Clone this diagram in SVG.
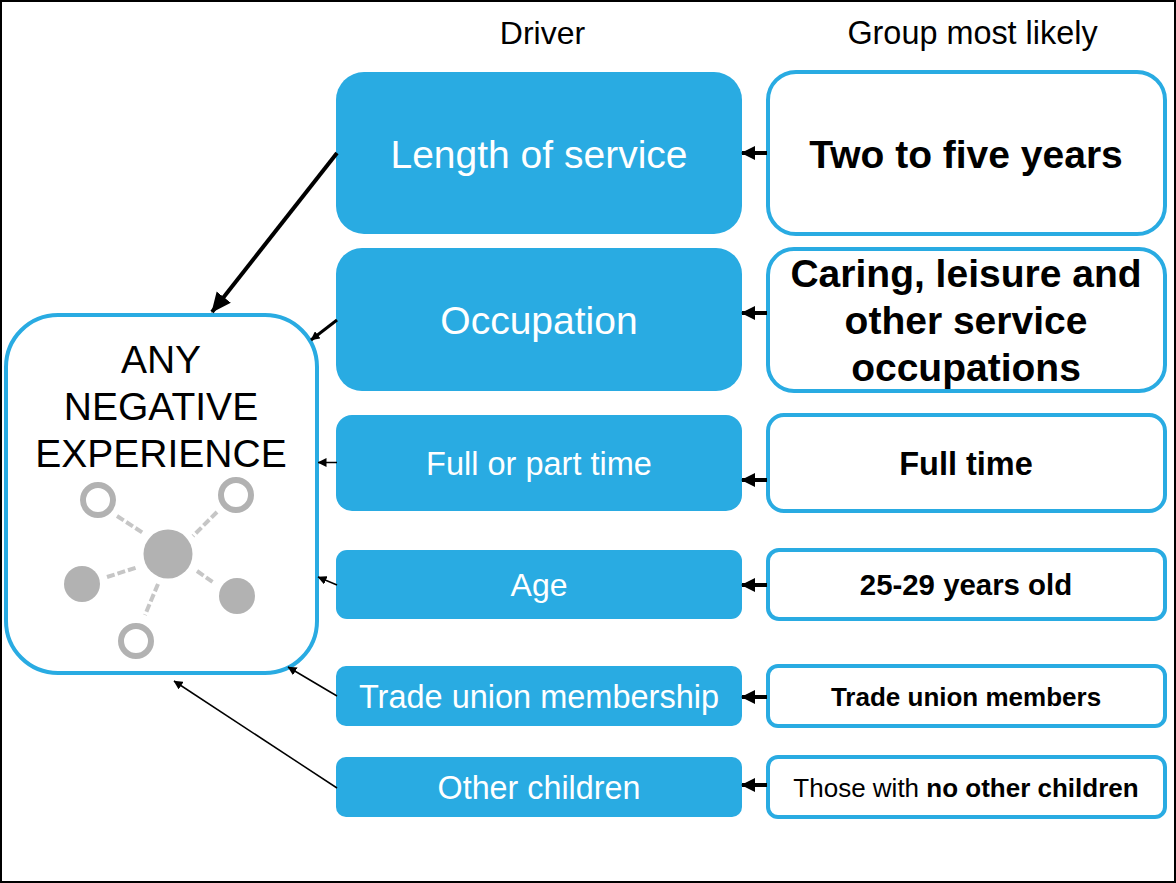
<svg xmlns="http://www.w3.org/2000/svg" width="1176" height="883" viewBox="0 0 1176 883">
<defs>
<marker id="L" markerUnits="userSpaceOnUse" markerWidth="20" markerHeight="20" refX="19" refY="10" orient="auto"><path d="M0 1L20 10L0 19Z" fill="#000"/></marker>
<marker id="M" markerUnits="userSpaceOnUse" markerWidth="14" markerHeight="14" refX="13" refY="7" orient="auto"><path d="M0 0L14 7L0 14Z" fill="#000"/></marker>
<marker id="S" markerUnits="userSpaceOnUse" markerWidth="9" markerHeight="9" refX="8.5" refY="4.5" orient="auto"><path d="M0 0L9 4.5L0 9Z" fill="#000"/></marker>
</defs>
<style>
.d{fill:#29abe2}
.g{fill:#fff;stroke:#29abe2;stroke-width:4}
text{font-family:"Liberation Sans",Arial,sans-serif;text-anchor:middle}
.w{fill:#fff}
.b{font-weight:bold;fill:#000}
.c{stroke:#000;fill:none}
.m{stroke-width:4;marker-end:url(#M)}
.s{stroke-width:1.5;marker-end:url(#S)}
.n{fill:#b2b2b2}
.r{fill:#fff;stroke:#b2b2b2;stroke-width:6}
.l{stroke:#c6c6c6;stroke-width:4;stroke-dasharray:8 3;fill:none}
</style>
<rect x="1" y="1" width="1174" height="881" fill="#fff" stroke="#000" stroke-width="2"/>
<text x="542.5" y="44" font-size="32">Driver</text>
<text x="972.5" y="44" font-size="32.4">Group most likely</text>
<g id="any"><rect class="g" x="6" y="315" width="311" height="358" rx="52"/>
<text x="161" y="373" font-size="39">ANY</text><text x="161" y="420" font-size="39">NEGATIVE</text><text x="161" y="467" font-size="39">EXPERIENCE</text>
<g id="icon"><path class="l" d="M117 516L143 533M217 512L193 536M107 577L138 567M197 571L214 583M158 584L145 615"/>
<circle class="n" cx="168" cy="554" r="24.5"/><circle class="r" cx="98" cy="500" r="15"/><circle class="r" cx="236" cy="495" r="15"/><circle class="n" cx="82" cy="584" r="18"/><circle class="n" cx="237" cy="596" r="18"/><circle class="r" cx="136" cy="641" r="15"/></g></g>
<g id="d1"><rect class="d" x="336" y="72" width="406" height="162" rx="28"/><text class="w" x="539" y="168" font-size="39">Length of service</text></g>
<g id="d2"><rect class="d" x="336" y="248" width="406" height="143" rx="26"/><text class="w" x="539" y="334" font-size="39">Occupation</text></g>
<g id="d3"><rect class="d" x="336" y="415" width="406" height="96" rx="16"/><text class="w" x="539" y="475" font-size="32.5">Full or part time</text></g>
<g id="d4"><rect class="d" x="336" y="550" width="406" height="69" rx="11"/><text class="w" x="539" y="596" font-size="32">Age</text></g>
<g id="d5"><rect class="d" x="336" y="666" width="406" height="60" rx="10"/><text class="w" x="539" y="708" font-size="32.5">Trade union membership</text></g>
<g id="d6"><rect class="d" x="336" y="757" width="406" height="60" rx="10"/><text class="w" x="539" y="799" font-size="32.3">Other children</text></g>
<g id="g1"><rect class="g" x="768" y="72" width="397" height="162" rx="28"/><text class="b" x="966" y="168" font-size="39">Two to five years</text></g>
<g id="g2"><rect class="g" x="768" y="249" width="397" height="142" rx="26"/><text class="b" x="966" y="287" font-size="39">Caring, leisure and</text><text class="b" x="966" y="334" font-size="39">other service</text><text class="b" x="966" y="381" font-size="39">occupations</text></g>
<g id="g3"><rect class="g" x="768" y="415" width="397" height="96" rx="16"/><text class="b" x="966" y="475" font-size="32.5">Full time</text></g>
<g id="g4"><rect class="g" x="768" y="550" width="397" height="69" rx="11"/><text class="b" x="966" y="595" font-size="29.4">25-29 years old</text></g>
<g id="g5"><rect class="g" x="768" y="666" width="397" height="60" rx="10"/><text class="b" x="966" y="706" font-size="26">Trade union members</text></g>
<g id="g6"><rect class="g" x="768" y="757" width="397" height="60" rx="10"/><text x="966" y="797" font-size="26">Those with <tspan font-weight="bold">no other children</tspan></text></g>
<g id="connectors">
<path class="c" stroke-width="4" marker-end="url(#L)" d="M337 153L212 312"/>
<path class="c" stroke-width="3" marker-end="url(#S)" d="M337 320L311 340"/>
<path class="c s" d="M337 462.500L318 462.500"/>
<path class="c s" d="M337 585L318 577"/>
<path class="c s" d="M337 696L288 667"/>
<path class="c s" d="M337 788L174 681"/>
<path class="c m" d="M767 153L742 153"/>
<path class="c m" d="M767 313L742 313"/>
<path class="c m" d="M767 480L742 480"/>
<path class="c m" d="M767 585L742 585"/>
<path class="c m" d="M767 697L742 697"/>
<path class="c m" d="M767 785L742 785"/>
</g>
</svg>
